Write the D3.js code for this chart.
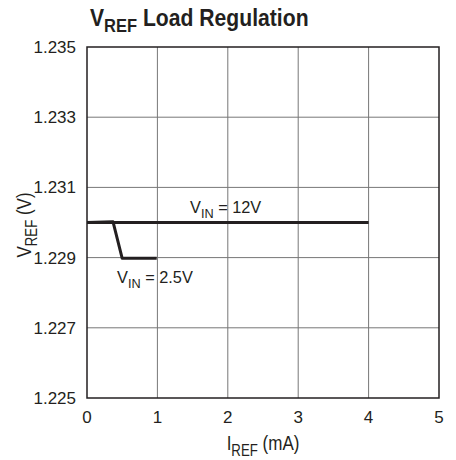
<!DOCTYPE html>
<html>
<head>
<meta charset="utf-8">
<script src="https://cdn.jsdelivr.net/npm/d3@7"></script>
<style>
  body { margin: 0; background: #fff; }
  svg text { font-family: "Liberation Sans", Arial, sans-serif; fill: #231f20; }
</style>
</head>
<body>
<div id="chart"></div>
<script>
// data
var xTicks = [0, 1, 2, 3, 4, 5];
var yTicks = [1.225, 1.227, 1.229, 1.231, 1.233, 1.235];
var vin12 = [
  { i: 0, v: 1.2300 },
  { i: 4, v: 1.2300 }
];
var vin25 = [
  { i: 0, v: 1.2300 },
  { i: 0.37, v: 1.23002 },
  { i: 0.5, v: 1.22898 },
  { i: 0.99, v: 1.22898 }
];

var width = 456,
  height = 460,
  margin = { top: 47, right: 17, bottom: 62, left: 87 };

var svg = d3.select("#chart").append("svg")
  .attr("width", width)
  .attr("height", height);

var x = d3.scaleLinear().domain([0, 5]).range([margin.left, width - margin.right]);
var y = d3.scaleLinear().domain([1.225, 1.235]).range([height - margin.bottom, margin.top]);

// grid
var grid = svg.append("g").attr("class", "grid");
grid.selectAll("line.vx").data(xTicks.slice(1, -1)).enter().append("line")
  .attr("x1", function(d) { return x(d); })
  .attr("x2", function(d) { return x(d); })
  .attr("y1", y(1.225))
  .attr("y2", y(1.235))
  .style("stroke", "#777")
  .style("stroke-width", 1);
grid.selectAll("line.hy").data(yTicks.slice(1, -1)).enter().append("line")
  .attr("x1", x(0))
  .attr("x2", x(5))
  .attr("y1", function(d) { return y(d); })
  .attr("y2", function(d) { return y(d); })
  .style("stroke", "#777")
  .style("stroke-width", 1);

// frame
svg.append("rect")
  .attr("x", x(0))
  .attr("y", y(1.235))
  .attr("width", x(5) - x(0))
  .attr("height", y(1.225) - y(1.235))
  .style("fill", "none")
  .style("stroke", "#231f20")
  .style("stroke-width", 1.5);

// tick labels
svg.append("g").selectAll("text").data(yTicks).enter().append("text")
  .attr("x", x(0) - 11)
  .attr("y", function(d) { return y(d) + 6; })
  .attr("text-anchor", "end")
  .style("font-size", "17px")
  .text(function(d) { return d3.format(".3f")(d); });
svg.append("g").selectAll("text").data(xTicks).enter().append("text")
  .attr("x", function(d) { return x(d); })
  .attr("y", y(1.225) + 25)
  .attr("text-anchor", "middle")
  .style("font-size", "17px")
  .text(function(d) { return d; });

// curves
var line = d3.line()
  .x(function(d) { return x(d.i); })
  .y(function(d) { return y(d.v); });
svg.append("path").datum(vin25)
  .attr("d", line)
  .style("fill", "none")
  .style("stroke", "#231f20")
  .style("stroke-width", 3)
  .style("stroke-linejoin", "round");
svg.append("path").datum(vin12)
  .attr("d", line)
  .style("fill", "none")
  .style("stroke", "#231f20")
  .style("stroke-width", 3);

// text with a subscript, squeezed horizontally to look condensed
function subText(parent, xp, yp, main, sub, rest, size, opts) {
  opts = opts || {};
  var g = parent.append("g")
    .attr("transform", "translate(" + xp + "," + yp + ")" + (opts.rotate ? " rotate(" + opts.rotate + ")" : "") +
      " scale(" + (opts.sx || 1) + ",1)");
  var t = g.append("text")
    .attr("text-anchor", opts.anchor || "start")
    .style("font-size", size + "px")
    .style("font-weight", opts.weight || "normal");
  t.append("tspan").text(main);
  t.append("tspan").attr("dy", size * 0.28).style("font-size", (size * 0.78) + "px").text(sub);
  t.append("tspan").attr("dy", -size * 0.28).text(rest);
  return g;
}

// curve labels
subText(svg, 190, 213, "V", "IN", " = 12V", 17, { sx: 0.96 });
subText(svg, 117, 283, "V", "IN", " = 2.5V", 17, { sx: 0.96 });

// title
subText(svg, 90, 26, "V", "REF", " Load Regulation", 23, { weight: "bold", sx: 0.92 });

// axis titles
subText(svg, (x(0) + x(5)) / 2, 450, "I", "REF", " (mA)", 20, { anchor: "middle", sx: 0.85 });
subText(svg, 31, 225, "V", "REF", " (V)", 20, { anchor: "middle", sx: 0.85, rotate: -90 });
</script>
</body>
</html>
